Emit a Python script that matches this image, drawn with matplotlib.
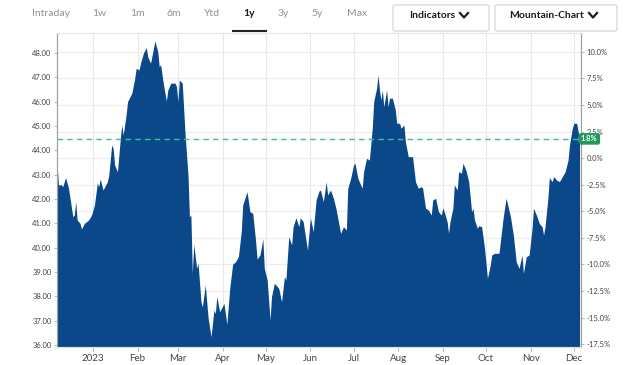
import matplotlib
matplotlib.use("Agg")
import matplotlib.pyplot as plt
import matplotlib.dates as mdates
from matplotlib.lines import Line2D
from matplotlib.patches import FancyBboxPatch
from matplotlib.ticker import FixedLocator, FuncFormatter
import pandas as pd

# daily closes
dates = [
    "2022-12-07", "2022-12-08", "2022-12-10", "2022-12-11", "2022-12-13", "2022-12-15",
    "2022-12-18", "2022-12-19", "2022-12-20", "2022-12-21", "2022-12-23", "2022-12-24",
    "2022-12-26", "2022-12-29", "2022-12-31", "2023-01-02", "2023-01-04", "2023-01-05",
    "2023-01-06", "2023-01-08", "2023-01-11", "2023-01-12", "2023-01-14", "2023-01-15",
    "2023-01-16", "2023-01-18", "2023-01-20", "2023-01-21", "2023-01-22", "2023-01-24",
    "2023-01-25", "2023-01-28", "2023-01-30", "2023-01-31", "2023-02-02", "2023-02-03",
    "2023-02-05", "2023-02-07", "2023-02-08", "2023-02-10", "2023-02-12", "2023-02-13",
    "2023-02-15", "2023-02-16", "2023-02-17", "2023-02-19", "2023-02-21", "2023-02-22",
    "2023-02-24", "2023-02-27", "2023-02-28", "2023-03-01", "2023-03-02", "2023-03-04",
    "2023-03-06", "2023-03-08", "2023-03-09", "2023-03-10", "2023-03-11", "2023-03-12",
    "2023-03-14", "2023-03-15", "2023-03-17", "2023-03-18", "2023-03-20", "2023-03-22",
    "2023-03-24", "2023-03-26", "2023-03-27", "2023-03-28", "2023-03-30", "2023-04-02",
    "2023-04-04", "2023-04-06", "2023-04-08", "2023-04-10", "2023-04-12", "2023-04-14",
    "2023-04-15", "2023-04-18", "2023-04-20", "2023-04-22", "2023-04-24", "2023-04-25",
    "2023-04-27", "2023-04-29", "2023-04-30", "2023-05-02", "2023-05-04", "2023-05-05",
    "2023-05-07", "2023-05-10", "2023-05-12", "2023-05-14", "2023-05-15", "2023-05-17",
    "2023-05-19", "2023-05-20", "2023-05-22", "2023-05-24", "2023-05-25", "2023-05-27",
    "2023-05-30", "2023-06-01", "2023-06-03", "2023-06-05", "2023-06-07", "2023-06-08",
    "2023-06-10", "2023-06-12", "2023-06-13", "2023-06-15", "2023-06-17", "2023-06-19",
    "2023-06-22", "2023-06-24", "2023-06-26", "2023-06-27", "2023-06-29", "2023-07-01",
    "2023-07-02", "2023-07-04", "2023-07-05", "2023-07-07", "2023-07-08", "2023-07-10",
    "2023-07-12", "2023-07-14", "2023-07-15", "2023-07-17", "2023-07-18", "2023-07-19",
    "2023-07-20", "2023-07-21", "2023-07-22", "2023-07-24", "2023-07-25", "2023-07-26",
    "2023-07-28", "2023-07-30", "2023-07-31", "2023-08-02", "2023-08-03", "2023-08-05",
    "2023-08-06", "2023-08-08", "2023-08-11", "2023-08-13", "2023-08-15", "2023-08-17",
    "2023-08-18", "2023-08-20", "2023-08-22", "2023-08-24", "2023-08-25", "2023-08-27",
    "2023-08-29", "2023-08-31", "2023-09-01", "2023-09-02", "2023-09-04", "2023-09-05",
    "2023-09-06", "2023-09-08", "2023-09-09", "2023-09-11", "2023-09-12", "2023-09-14",
    "2023-09-15", "2023-09-17", "2023-09-19", "2023-09-21", "2023-09-22", "2023-09-23",
    "2023-09-25", "2023-09-26", "2023-09-28", "2023-09-30", "2023-10-02", "2023-10-04",
    "2023-10-05", "2023-10-07", "2023-10-10", "2023-10-11", "2023-10-13", "2023-10-15",
    "2023-10-18", "2023-10-20", "2023-10-22", "2023-10-24", "2023-10-26", "2023-10-27",
    "2023-10-29", "2023-10-31", "2023-11-02", "2023-11-03", "2023-11-05", "2023-11-07",
    "2023-11-09", "2023-11-10", "2023-11-11", "2023-11-13", "2023-11-14", "2023-11-16",
    "2023-11-17", "2023-11-19", "2023-11-21", "2023-11-23", "2023-11-25", "2023-11-27",
    "2023-11-28", "2023-11-30", "2023-12-01", "2023-12-03", "2023-12-04", "2023-12-05",
]
prices = [
    43.47, 42.58, 42.58, 42.51, 42.88, 42.44,
    41.27, 41.34, 41.89, 41.14, 41.00, 40.77,
    41.00, 41.14, 41.34, 41.75, 42.65, 42.51,
    42.82, 42.37, 42.71, 42.99, 44.22, 44.08,
    43.40, 43.12, 44.50, 45.04, 44.63, 45.45,
    46.00, 46.35, 46.96, 47.37, 47.30, 47.58,
    47.99, 48.22, 47.85, 47.58, 48.19, 48.49,
    48.06, 47.44, 47.51, 46.69, 46.03, 46.48,
    46.76, 46.76, 46.62, 46.00, 46.89, 46.76,
    44.63, 42.99, 41.27, 41.34, 38.95, 40.14,
    39.15, 39.36, 37.78, 37.57, 38.47, 37.10,
    36.34, 37.44, 37.30, 37.99, 37.37, 37.71,
    36.85, 38.33, 39.32, 39.42, 39.63, 40.66,
    41.75, 42.30, 41.48, 41.41, 40.25, 39.53,
    39.70, 40.36, 39.15, 38.67, 37.03, 37.99,
    38.54, 38.33, 37.78, 38.81, 38.67, 40.45,
    40.11, 40.86, 41.23, 40.86, 41.23, 41.07,
    39.90, 41.23, 40.66, 41.96, 42.33, 42.37,
    41.89, 42.71, 42.17, 42.37, 42.03, 41.55,
    40.59, 40.86, 40.73, 42.44, 42.85, 43.40,
    43.47, 42.85, 42.71, 42.44, 43.12, 43.67,
    43.60, 44.91, 46.00, 46.55, 47.10, 46.48,
    46.07, 46.48, 45.79, 46.48, 45.79, 46.14,
    46.14, 45.66, 45.11, 45.11, 44.91, 45.04,
    44.36, 43.74, 43.74, 42.71, 42.44, 42.51,
    42.44, 41.62, 41.55, 41.34, 41.96, 42.03,
    41.48, 41.34, 41.64, 41.48, 41.07, 40.59,
    41.07, 41.62, 42.58, 42.37, 43.12, 43.06,
    43.47, 43.19, 42.71, 41.48, 41.62, 41.14,
    40.80, 40.90, 40.86, 39.97, 38.74, 39.29,
    39.70, 39.77, 39.77, 40.25, 41.27, 42.03,
    41.27, 40.52, 39.42, 39.15, 39.70, 38.95,
    39.63, 39.70, 40.80, 41.62, 41.34, 41.00,
    40.86, 40.52, 40.86, 42.03, 42.88, 42.71,
    42.92, 42.78, 42.71, 42.92, 43.12, 43.60,
    44.22, 44.91, 45.11, 45.11, 44.77, 44.47,
]
base_price = 43.68          # reference price for the % scale
price_ticks = [36, 37, 38, 39, 40, 41, 42, 43, 44, 45, 46, 47, 48]
pct_ticks = [-17.5, -15.0, -12.5, -10.0, -7.5, -5.0, -2.5, 0.0, 2.5, 5.0, 7.5, 10.0]
tabs = ["Intraday", "1w", "1m", "6m", "Ytd", "1y", "3y", "5y", "Max"]
active_tab = "1y"

x = pd.to_datetime(dates)
ylo, yhi = 35.92, 48.82

fig = plt.figure(figsize=(6.4, 3.65), dpi=100)
ax = fig.add_axes([57 / 640, 1 - 347 / 365, 524 / 640, 314 / 365])

ax.fill_between(x, prices, ylo, color="#0a488a", lw=0, zorder=2)
ax.set_ylim(ylo, yhi)
ax.set_xlim(x[0], x[-1] + pd.Timedelta(days=1))

# last price line + badge
last = prices[-1]
pct_last = (last / base_price - 1) * 100
ax.axhline(last, color="#3dbf9c", lw=1, ls=(0, (4, 3)), zorder=3)
ax.plot([x[-1]], [last], "o", ms=3, color="#2fb0d8", zorder=5, clip_on=False)

# grid: vertical at months, horizontal at % levels
ax.xaxis.set_major_locator(mdates.MonthLocator())
ax.xaxis.set_major_formatter(FuncFormatter(
    lambda v, _: "2023" if mdates.num2date(v).month == 1 else mdates.num2date(v).strftime("%b")))
ax.set_yticks(price_ticks)
ax.yaxis.set_major_formatter(FuncFormatter(lambda v, _: f"{v:.2f}"))
ax.yaxis.set_minor_locator(FixedLocator([base_price * (1 + p / 100) for p in pct_ticks]))
ax.grid(axis="x", which="major", color="#e8e8e8", lw=0.8)
ax.grid(axis="y", which="minor", color="#ececec", lw=0.8)
ax.set_axisbelow(True)
ax.tick_params(axis="y", which="minor", length=0)
ax.tick_params(axis="y", which="major", length=2, color="#bbbbbb", labelsize=5.5,
               labelcolor="#444444", pad=2)
ax.tick_params(axis="x", length=3, color="#bbbbbb", labelsize=7, labelcolor="#444444", pad=2)
for lab in ax.get_yticklabels() + ax.get_xticklabels():
    lab.set_family("Lato")

ax2 = ax.twinx()
ax2.set_ylim((ylo / base_price - 1) * 100, (yhi / base_price - 1) * 100)
ax2.set_yticks(pct_ticks)
ax2.yaxis.set_major_formatter(FuncFormatter(lambda v, _: f"{v:.1f}%"))
ax2.tick_params(axis="y", length=2, color="#bbbbbb", labelsize=5.5, labelcolor="#444444", pad=2)
for lab in ax2.get_yticklabels():
    lab.set_family("Lato")

for a in (ax, ax2):
    a.spines["top"].set_color("#e6e6e6")
    a.spines["bottom"].set_color("#dddddd")
    a.spines["left"].set_color("#a0a0a0")
    a.spines["right"].set_color("#a0a0a0")
    for s in a.spines.values():
        s.set_linewidth(0.8)

ax2.text(1.0, pct_last, f"{pct_last:.1f}%", transform=ax2.get_yaxis_transform(),
         fontsize=5.5, color="white", fontweight="bold", family="Lato",
         va="center", ha="left", zorder=6,
         bbox=dict(boxstyle="round,pad=0.3", fc="#1f9a5a", ec="none"))

# toolbar
tab_x = [51, 99, 137, 174, 212, 249, 283, 317, 357]
for t, px in zip(tabs, tab_x):
    on = t == active_tab
    fig.text(px / 640, 1 - 14 / 365, t, ha="center", va="center", fontsize=7.5,
             family="Lato", fontweight="bold" if on else "normal",
             color="#1a1a1a" if on else "#8c929c")
fig.add_artist(Line2D([233 / 640, 266 / 640], [1 - 31 / 365] * 2, color="#222222", lw=1.5,
                      transform=fig.transFigure))

for (x0, x1, label, cx) in [(393, 489, "Indicators", 464), (495, 617, "Mountain-Chart", 593)]:
    fig.add_artist(FancyBboxPatch((x0 / 640, 1 - 31 / 365), (x1 - x0) / 640, 26 / 365,
                                  boxstyle="round,pad=0,rounding_size=0.004",
                                  transform=fig.transFigure, fc="white", ec="#cfd3d8", lw=0.8))
    fig.text((cx - 9) / 640, 1 - 15.5 / 365, label, ha="right", va="center", fontsize=7.5,
             family="Lato", fontweight="bold", color="#1a1a1a")
    fig.add_artist(Line2D([(cx - 4) / 640, cx / 640, (cx + 4) / 640],
                          [1 - 13 / 365, 1 - 17.5 / 365, 1 - 13 / 365],
                          color="#1a1a1a", lw=1.6, transform=fig.transFigure))

fig.savefig("out.png", dpi=100)
